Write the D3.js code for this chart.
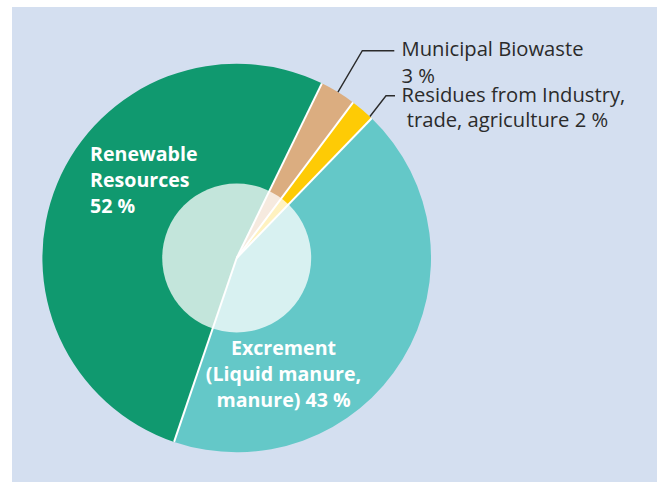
<!DOCTYPE html>
<html>
<head>
<meta charset="utf-8">
<script src="https://cdn.jsdelivr.net/npm/d3@7"></script>
<style>
  html, body { margin: 0; padding: 0; background: #ffffff; }
  svg { display: block; }
  text { font-family: "Open Sans", "Noto Sans", sans-serif; }
</style>
</head>
<body>
<svg id="chart" width="657" height="482"></svg>
<script>
// Shares of biogas substrates, clockwise from the top-right
const categories = ["Municipal Biowaste", "Residues from Industry, trade, agriculture", "Excrement (Liquid manure, manure)", "Renewable Resources"];
const shares = [3, 2, 43, 52];
const colors = ["#dbad80", "#fecb05", "#64c8c8", "#10996f"];

const svg = d3.select("#chart");
const W = 657, H = 482;

// panel background
svg.append("rect").attr("x", 12).attr("y", 7).attr("width", W - 12).attr("height", H - 7).attr("fill", "#d4dff0");

const cx = 236.7, cy = 258, R = 194.3, rInner = 74.5;
const start = 26 * Math.PI / 180;

const pie = d3.pie().sort(null).value(d => d.v).startAngle(start).endAngle(start + 2 * Math.PI);
const data = pie(categories.map((c, i) => ({ c, v: shares[i], col: colors[i] })));
const arc = d3.arc().innerRadius(0).outerRadius(R);

const g = svg.append("g").attr("transform", `translate(${cx},${cy})`);

g.selectAll("path.slice").data(data).join("path")
  .attr("class", "slice")
  .attr("d", arc)
  .attr("fill", d => d.data.col);

// translucent inner disc
g.append("circle").attr("r", rInner).attr("fill", "#ffffff").attr("fill-opacity", 0.75);

// white separators between slices
g.selectAll("line.sep").data(data).join("line")
  .attr("class", "sep")
  .attr("x1", 0).attr("y1", 0)
  .attr("x2", d => R * Math.sin(d.startAngle))
  .attr("y2", d => -R * Math.cos(d.startAngle))
  .attr("stroke", "#ffffff").attr("stroke-width", 2);

// labels inside the large slices
const inside = [
  { lines: ["Renewable", "Resources", shares[3] + " %"], x: 90, y: 161, anchor: "start" },
  { lines: ["Excrement", "(Liquid manure,", "manure) " + shares[2] + " %"], x: 283.5, y: 355, anchor: "middle" }
];
inside.forEach(l => {
  const t = svg.append("text").attr("x", l.x).attr("y", l.y)
    .attr("text-anchor", l.anchor).attr("fill", "#ffffff")
    .attr("font-size", 19.6).attr("font-weight", 700);
  l.lines.forEach((s, i) => t.append("tspan").attr("x", l.x).attr("dy", i ? 26 : 0).text(s));
});

// outside labels with leader lines for the two small slices
const outside = [
  { i: 0, f: 0.5, lines: ["Municipal Biowaste", shares[0] + " %"], x: 401.5, y: 56, lh: 27, knee: [362.3, 50.7], end: 394.3 },
  { i: 1, f: 0.9, lines: ["Residues from Industry,", " trade, agriculture " + shares[1] + " %"], x: 401.5, y: 101.7, lh: 25, knee: [386, 95.7], end: 395 }
];
outside.forEach(o => {
  const d = data[o.i];
  const a = d.startAngle + (d.endAngle - d.startAngle) * o.f;
  const p0 = [cx + R * Math.sin(a), cy - R * Math.cos(a)];
  svg.append("polyline")
    .attr("points", [p0, o.knee, [o.end, o.knee[1]]].map(p => p.join(",")).join(" "))
    .attr("fill", "none").attr("stroke", "#2b2b2b").attr("stroke-width", 1.4);
  const t = svg.append("text").attr("x", o.x).attr("y", o.y)
    .attr("fill", "#2b2b2b").attr("font-size", 20.2).attr("xml:space", "preserve");
  o.lines.forEach((s, k) => t.append("tspan").attr("x", o.x).attr("dy", k ? o.lh : 0).text(s));
});
</script>
</body>
</html>
